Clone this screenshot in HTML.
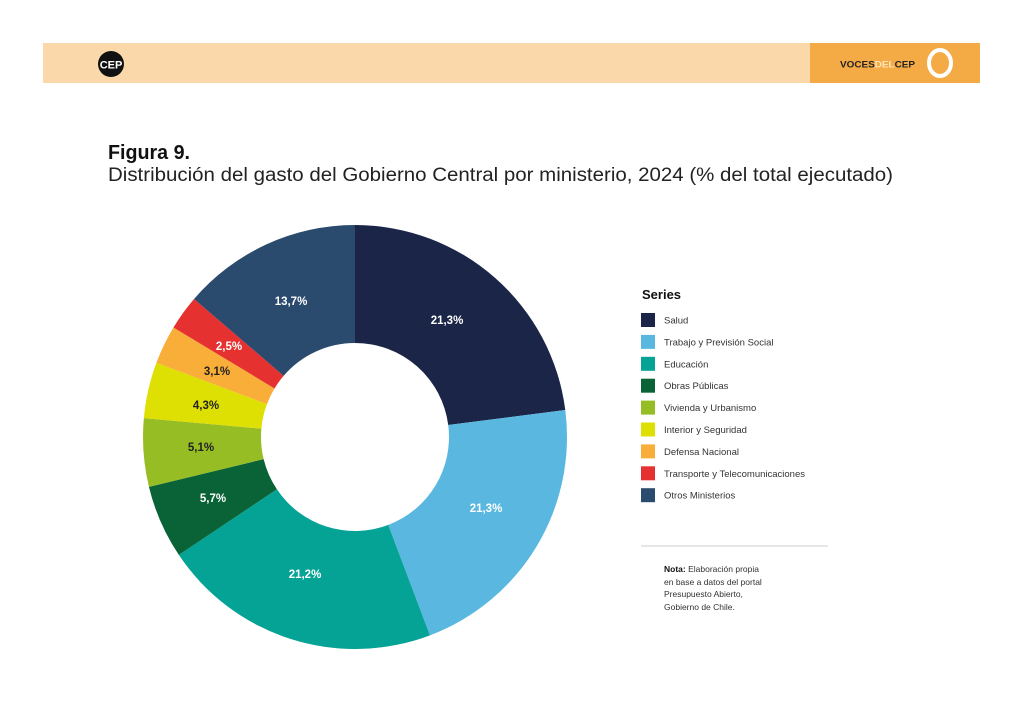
<!DOCTYPE html>
<html><head><meta charset="utf-8"><style>
html,body{margin:0;padding:0;background:#fff;}
svg{display:block;font-family:"Liberation Sans",sans-serif;}
</style></head><body>
<svg id="s" width="1024" height="724" viewBox="0 0 1024 724" xmlns="http://www.w3.org/2000/svg">
<rect x="43" y="43" width="937" height="40" fill="#fad8aa"/>
<rect x="810" y="43" width="170" height="40" fill="#f5ab45"/>
<circle cx="111" cy="64" r="13" fill="#111"/>
<text x="111" y="68.5" text-anchor="middle" font-size="11" font-weight="bold" fill="#fff">CEP</text>
<text x="840" y="67.5" font-size="9" font-weight="bold" fill="#222" textLength="75" lengthAdjust="spacingAndGlyphs">VOCES<tspan fill="#fde3b8">DEL</tspan>CEP</text>
<ellipse cx="940" cy="63" rx="11" ry="13" fill="none" stroke="#fff" stroke-width="4"/>
<text x="108" y="159" font-size="20" font-weight="bold" fill="#111" textLength="82" lengthAdjust="spacingAndGlyphs">Figura 9.</text>
<text x="108" y="181" font-size="19" fill="#222" textLength="785" lengthAdjust="spacingAndGlyphs">Distribución del gasto del Gobierno Central por ministerio, 2024 (% del total ejecutado)</text>
<g id="pie"></g>
<text x="642" y="299" font-size="13" font-weight="bold" fill="#111">Series</text>
<g id="leg" font-size="9.5" fill="#333"></g>
<line x1="641" y1="546" x2="828" y2="546" stroke="#ccc" stroke-width="1"/>
<g font-size="8.5" fill="#333">
<text x="664" y="572"><tspan font-weight="bold" fill="#111">Nota:</tspan> Elaboración propia</text>
<text x="664" y="585">en base a datos del portal</text>
<text x="664" y="597">Presupuesto Abierto,</text>
<text x="664" y="610">Gobierno de Chile.</text>
</g>
</svg>
<script>
var cx=355,cy=437,R=212,r=94;
var d=[["Salud","#1b2548",0,82.7,"21,3%",447,320,"#fff"],
["Trabajo y Previsión Social","#5ab8e0",82.7,159.3,"21,3%",486,508,"#fff"],
["Educación","#05a296",159.3,236.2,"21,2%",305,574,"#fff"],
["Obras Públicas","#0a6336",236.2,256.4,"5,7%",213,498,"#fff"],
["Vivienda y Urbanismo","#96bd24",256.4,275.1,"5,1%",201,447,"#222"],
["Interior y Seguridad","#dee003",275.1,290.5,"4,3%",206,405,"#222"],
["Defensa Nacional","#f8ae38",290.5,301.1,"3,1%",217,371,"#222"],
["Transporte y Telecomunicaciones","#e5312f",301.1,310.6,"2,5%",229,346,"#fff"],
["Otros Ministerios","#2a4a6e",310.6,360,"13,7%",291,301,"#fff"]];
function p(a,rr){a=a*Math.PI/180;return [cx+rr*Math.sin(a),cy-rr*Math.cos(a)];}
var h="",l="";
d.forEach(function(s,i){
var a=p(s[2],R),b=p(s[3],R),c=p(s[3],r),e=p(s[2],r),lg=(s[3]-s[2])>180?1:0;
h+='<path d="M'+a+'A'+R+','+R+' 0 '+lg+' 1 '+b+'L'+c+'A'+r+','+r+' 0 '+lg+' 0 '+e+'Z" fill="'+s[1]+'"/>';
h+='<text x="'+s[5]+'" y="'+(s[6]+4)+'" text-anchor="middle" font-size="11.5" font-weight="bold" fill="'+s[7]+'">'+s[4]+'</text>';
var y=313+i*21.9;
l+='<rect x="641" y="'+y+'" width="14" height="14" fill="'+s[1]+'"/><text x="664" y="'+(y+10.5)+'">'+s[0]+'</text>';
});
document.getElementById("pie").innerHTML=h;
document.getElementById("leg").innerHTML=l;
</script>
</body></html>
